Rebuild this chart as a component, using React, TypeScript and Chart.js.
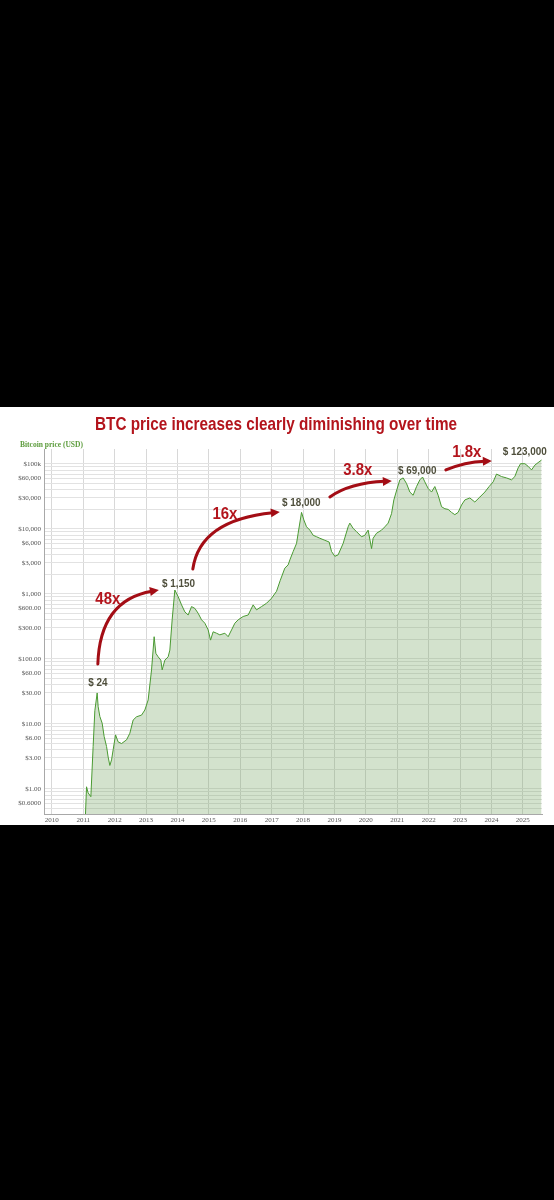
import React, { useEffect, useRef } from 'react';
import { Chart, registerables } from 'chart.js';

Chart.register(...registerables);

// ---- DATA ----
const titleText = 'BTC price increases clearly diminishing over time';
const axisTitleText = 'Bitcoin price (USD)';

// decimal year of each sample
const years = [
  2011.06, 2011.105, 2011.156, 2011.242, 2011.315, 2011.369, 2011.443, 2011.475, 2011.529, 2011.602,
  2011.666, 2011.742, 2011.793, 2011.847, 2011.901, 2011.952, 2012.029, 2012.111, 2012.22, 2012.379,
  2012.484, 2012.589, 2012.697, 2012.857, 2012.962, 2013.067, 2013.175, 2013.258, 2013.312, 2013.385,
  2013.471, 2013.513, 2013.599, 2013.704, 2013.758, 2013.831, 2013.917, 2014.022, 2014.131, 2014.236,
  2014.341, 2014.449, 2014.554, 2014.659, 2014.768, 2014.873, 2014.978, 2015.054, 2015.137, 2015.245,
  2015.35, 2015.51, 2015.615, 2015.723, 2015.828, 2015.933, 2016.092, 2016.252, 2016.411, 2016.519,
  2016.678, 2016.838, 2016.997, 2017.156, 2017.27, 2017.42, 2017.525, 2017.58, 2017.685, 2017.793,
  2017.844, 2017.952, 2018.025, 2018.111, 2018.217, 2018.322, 2018.43, 2018.535, 2018.694, 2018.831,
  2018.908, 2019.013, 2019.118, 2019.277, 2019.436, 2019.49, 2019.596, 2019.704, 2019.863, 2019.968,
  2020.073, 2020.182, 2020.232, 2020.341, 2020.5, 2020.605, 2020.71, 2020.818, 2020.892, 2020.985,
  2021.083, 2021.188, 2021.296, 2021.401, 2021.506, 2021.615, 2021.72, 2021.806, 2021.879, 2021.984,
  2022.092, 2022.197, 2022.303, 2022.411, 2022.516, 2022.621, 2022.729, 2022.834, 2022.939, 2023.048,
  2023.153, 2023.312, 2023.471, 2023.631, 2023.79, 2023.927, 2024.054, 2024.162, 2024.322, 2024.481,
  2024.64, 2024.745, 2024.85, 2024.927, 2025.064, 2025.169, 2025.277, 2025.382, 2025.487, 2025.595,
];

// price in USD at each sample
const prices = [
  0.3, 1.08, 0.87, 0.76, 4.5, 16, 30, 18.4, 13, 10.3,
  6.4, 4.5, 3.1, 2.3, 2.8, 4.0, 6.8, 5.3, 5.0, 5.7,
  7.2, 11.5, 12.9, 13.7, 16.4, 23.4, 68, 220, 122, 108,
  96, 68, 96, 108, 137, 400, 1150, 910, 680, 530,
  475, 640, 600, 505, 400, 355, 280, 195, 262, 249,
  235, 249, 220, 280, 355, 400, 450, 475, 680, 570,
  640, 720, 860, 1100, 1600, 2500, 2800, 3340, 4500, 6000,
  8600, 18000, 13800, 10800, 9600, 8000, 7600, 7200, 6700, 6300,
  4500, 3800, 4000, 6000, 10800, 12300, 10200, 9100, 7600, 8000,
  9600, 5000, 7200, 8600, 9600, 10800, 12300, 17200, 28000, 40000,
  57000, 61000, 50000, 37000, 33000, 45000, 57000, 63000, 53000, 42000,
  37000, 45000, 33000, 22000, 20500, 20000, 18000, 16600, 18000, 23400,
  28000, 30000, 26000, 31000, 37000, 45000, 53000, 70000, 64000, 61000,
  57000, 64000, 87000, 101000, 101000, 92000, 81000, 96000, 105000, 115000,
];

const yearTicks = [2010, 2011, 2012, 2013, 2014, 2015, 2016, 2017, 2018, 2019, 2020, 2021, 2022, 2023, 2024, 2025];

const priceTickValues = [100000, 60000, 30000, 10000, 6000, 3000, 1000, 600, 300, 100, 60, 30, 10, 6, 3, 1, 0.6];
const priceTickLabels = [
  '$100k', '$60,000', '$30,000', '$10,000', '$6,000', '$3,000', '$1,000', '$600.00', '$300.00',
  '$100.00', '$60.00', '$30.00', '$10.00', '$6.00', '$3.00', '$1.00', '$0.6000',
];

// annotation texts and anchors (in data units: year, price)
const peakLabels = ['$ 24', '$ 1,150', '$ 18,000', '$ 69,000', '$ 123,000'];
const peakLabelYears = [2011.465, 2014.03, 2017.946, 2021.64, 2025.064];
const peakLabelPrices = [42.7, 1425, 25100, 78000, 153000];

const multLabels = ['48x', '16x', '3.8x', '1.8x'];
const multLabelYears = [2011.783, 2015.51, 2019.745, 2023.217];
const multLabelPrices = [838, 17000, 80900, 153000];

const arrowStartYears = [2011.465, 2014.49, 2018.854, 2022.548];
const arrowStartPrices = [83.7, 2425, 31050, 80900];
const arrowCtrlYears = [2011.529, 2014.713, 2019.49, 2023.153];
const arrowCtrlPrices = [809, 13750, 51000, 107400];
const arrowEndYears = [2013.408, 2017.261, 2020.828, 2024.013];
const arrowEndPrices = [1152, 18270, 54700, 111200];

const Y_MIN = 0.412;
const Y_MAX = 170000;
const X_MIN = 2009.75;
const X_MAX = 2025.61;

// ---- STYLE ----
const RED = '#b3141c';
const ARROW_RED = '#a30d15';
const PRICE_LABEL = '#4f4f3c';
const GREEN_TEXT = '#5c9c3c';
const LINE_GREEN = '#4a9a32';
const FILL_GREEN = 'rgba(110,160,90,0.30)';
const TICK_COLOR = '#555555';
const SERIF = '"Liberation Serif", "DejaVu Serif", serif';
const SANS = '"Liberation Sans", Arial, sans-serif';

function drawScaledText(ctx: CanvasRenderingContext2D, text: string, cx: number, cy: number, font: string, color: string, sx: number) {
  ctx.save();
  ctx.font = font;
  ctx.fillStyle = color;
  ctx.textAlign = 'center';
  ctx.textBaseline = 'middle';
  ctx.translate(cx, cy);
  ctx.scale(sx, 1);
  ctx.fillText(text, 0, 0);
  ctx.restore();
}

const annotationPlugin = {
  id: 'btcAnnotations',
  afterDraw(chart: any) {
    const ctx: CanvasRenderingContext2D = chart.ctx;
    const xs = chart.scales.x;
    const ys = chart.scales.y;
    const px = (v: number) => xs.getPixelForValue(v);
    const py = (v: number) => ys.getPixelForValue(v);

    // title
    ctx.save();
    const titleFont = `bold 19px ${SANS}`;
    ctx.font = titleFont;
    const tw = ctx.measureText(titleText).width;
    ctx.restore();
    drawScaledText(ctx, titleText, 276, 18, titleFont, RED, 362 / tw);

    // axis title
    ctx.save();
    ctx.font = `bold 7.5px ${SERIF}`;
    ctx.fillStyle = GREEN_TEXT;
    ctx.textAlign = 'left';
    ctx.textBaseline = 'middle';
    ctx.fillText(axisTitleText, 20, 38);
    ctx.restore();

    // arrows
    for (let i = 0; i < arrowStartYears.length; i++) {
      const x0 = px(arrowStartYears[i]);
      const y0 = py(arrowStartPrices[i]);
      const x1 = px(arrowCtrlYears[i]);
      const y1 = py(arrowCtrlPrices[i]);
      const x2 = px(arrowEndYears[i]);
      const y2 = py(arrowEndPrices[i]);
      const dx = x2 - x1;
      const dy = y2 - y1;
      const len = Math.hypot(dx, dy) || 1;
      const ux = dx / len;
      const uy = dy / len;
      const headLen = 9;
      const headHalf = 4.5;
      const bx = x2 - ux * headLen;
      const by = y2 - uy * headLen;
      ctx.save();
      ctx.strokeStyle = ARROW_RED;
      ctx.fillStyle = ARROW_RED;
      ctx.lineWidth = 3;
      ctx.lineCap = 'round';
      ctx.beginPath();
      ctx.moveTo(x0, y0);
      ctx.quadraticCurveTo(x1, y1, bx + ux * 2, by + uy * 2);
      ctx.stroke();
      ctx.beginPath();
      ctx.moveTo(x2, y2);
      ctx.lineTo(bx - uy * headHalf, by + ux * headHalf);
      ctx.lineTo(bx + uy * headHalf, by - ux * headHalf);
      ctx.closePath();
      ctx.fill();
      ctx.restore();
    }

    // multiplier labels
    for (let i = 0; i < multLabels.length; i++) {
      drawScaledText(ctx, multLabels[i], px(multLabelYears[i]), py(multLabelPrices[i]), `bold 17px ${SANS}`, RED, 0.88);
    }
    // price labels
    for (let i = 0; i < peakLabels.length; i++) {
      drawScaledText(ctx, peakLabels[i], px(peakLabelYears[i]), py(peakLabelPrices[i]), `bold 11px ${SANS}`, PRICE_LABEL, 0.9);
    }
  },
};

function buildGridValues(): number[] {
  const out: number[] = [];
  for (let e = -1; e <= 5; e++) {
    for (let k = 1; k <= 9; k++) {
      const v = k * Math.pow(10, e);
      if (v >= Y_MIN && v <= Y_MAX) out.push(v);
    }
  }
  return out;
}

export default function App() {
  const canvasRef = useRef<HTMLCanvasElement | null>(null);

  useEffect(() => {
    const canvas = canvasRef.current;
    if (!canvas) return;
    const points = years.map((yr, i) => ({ x: yr, y: prices[i] }));
    const gridValues = buildGridValues();

    const chart = new Chart(canvas, {
      type: 'line',
      data: {
        datasets: [
          {
            label: 'Bitcoin price (USD)',
            data: points,
            borderColor: LINE_GREEN,
            borderWidth: 1,
            backgroundColor: FILL_GREEN,
            fill: 'start',
            pointRadius: 0,
            tension: 0,
          },
        ],
      },
      options: {
        animation: false,
        responsive: false,
        maintainAspectRatio: false,
        devicePixelRatio: 1,
        layout: { padding: { top: 42, right: 12, left: 0, bottom: 0 } },
        plugins: {
          legend: { display: false },
          title: { display: false },
          tooltip: { enabled: false },
        },
        scales: {
          x: {
            type: 'linear',
            min: X_MIN,
            max: X_MAX,
            afterBuildTicks: (scale: any) => {
              scale.ticks = yearTicks.map((v) => ({ value: v }));
            },
            afterFit: (scale: any) => {
              scale.height = 11;
            },
            grid: { color: '#d8d8d8', lineWidth: 1, drawTicks: false },
            border: { display: true, color: '#a8a8a8' },
            ticks: {
              autoSkip: false,
              maxRotation: 0,
              padding: 2,
              color: TICK_COLOR,
              font: { family: SERIF, size: 7 },
              callback: (v: any) => String(v),
            },
          },
          y: {
            type: 'logarithmic',
            min: Y_MIN,
            max: Y_MAX,
            afterBuildTicks: (scale: any) => {
              scale.ticks = gridValues.map((v) => ({ value: v }));
            },
            afterFit: (scale: any) => {
              scale.width = 44;
            },
            grid: { color: '#e2e2e2', lineWidth: 1, drawTicks: false },
            border: { display: true, color: '#a8a8a8' },
            ticks: {
              autoSkip: false,
              padding: 3,
              color: TICK_COLOR,
              font: { family: SERIF, size: 7 },
              callback: (v: any) => {
                const val = Number(v);
                const idx = priceTickValues.findIndex((t) => Math.abs(t - val) / t < 1e-6);
                return idx >= 0 ? priceTickLabels[idx] : '';
              },
            },
          },
        },
      },
      plugins: [annotationPlugin],
    } as any);

    return () => {
      chart.destroy();
    };
  }, []);

  return (
    <div style={{ position: 'absolute', left: 0, top: 0, width: 554, height: 1200, background: '#000', overflow: 'hidden' }}>
      <canvas
        ref={canvasRef}
        width={554}
        height={418}
        style={{ position: 'absolute', left: 0, top: 407, width: 554, height: 418, background: '#fff', display: 'block' }}
      />
    </div>
  );
}
